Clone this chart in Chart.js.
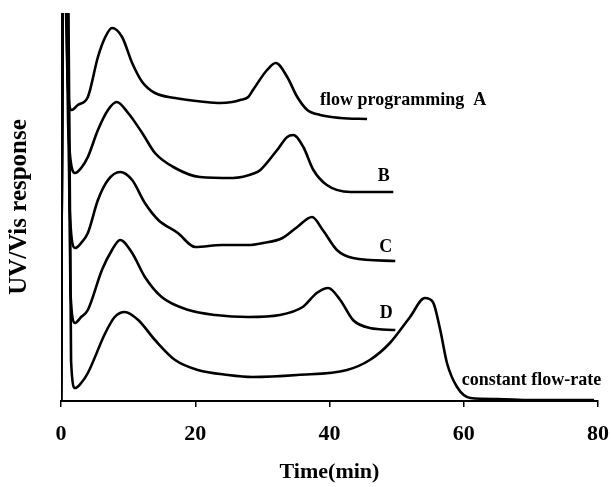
<!DOCTYPE html>
<html>
<head>
<meta charset="utf-8">
<script src="https://cdn.jsdelivr.net/npm/chart.js@4/dist/chart.umd.min.js"></script>
<style>
  html, body { margin: 0; padding: 0; background: #ffffff; }
  #wrap { width: 611px; height: 487px; }
</style>
</head>
<body>
<div id="wrap"><canvas id="c" width="611" height="487"></canvas></div>
<script>
// ---- data (time in min, detector response in arbitrary offset units) ----
const xTicks = [0, 20, 40, 60, 80];
const seriesNames = ["flow programming A", "B", "C", "D", "constant flow-rate"];

const traceA = [[0,0],[0.3,420],[0.7,400],[1.0,318],[1.6,291],[2.5,296],[4.0,304],[5.5,344],[6.6,364],[7.6,373],[9.1,364],[10.6,338],[12.1,319],[14,308],[17,303],[21.5,299],[23.7,298],[25.5,299],[26.7,301],[27.9,304],[28.6,311],[30.7,331],[32,338],[33.7,324],[35.2,304],[36.7,291],[38.6,286],[41.6,283],[45.6,282]];
const traceB = [[0,0],[0.3,420],[0.8,400],[1.1,268],[2.1,228],[3,233],[4,244],[5.5,271],[7,291],[8.3,299],[10,288],[12.1,268],[14,248],[17,233],[20.7,224],[25.6,223],[28.9,228],[29.7,231],[32.2,251],[33.7,264],[34.6,266],[36.1,254],[37.6,231],[39.6,216],[43.1,209],[49.5,209]];
const traceC = [[0,0],[0.3,420],[0.9,400],[1.3,190],[2.1,153],[3,158],[4,168],[5.5,201],[7,221],[8.8,229],[10.6,221],[12.5,198],[14.5,181],[17.4,168],[20,154],[24,156],[27.9,156],[30.1,158],[33,163],[35.2,174],[37.4,184],[39,171],[41.1,151],[43.5,143],[49.8,140]];
const traceD = [[0,0],[0.3,420],[1.0,400],[1.4,110],[2.1,78],[3,84],[4,91],[6.1,131],[7.6,151],[8.8,161],[10.6,148],[12.5,124],[15,104],[19,91],[23,86],[27.9,84],[32.6,86],[36,94],[38.1,108],[39.8,113],[41.6,101],[43.5,81],[46,73],[49.8,71]];
const traceConst = [[0,0],[0.3,420],[1.1,400],[1.5,40],[2.1,13],[3,18],[4,28],[6.6,68],[8,84],[9.5,89],[11.5,81],[14,61],[17,41],[20.4,31],[24.9,26],[28.5,24],[35.2,26],[42.6,31],[46,41],[49,58],[52,84],[54.2,103],[55.4,99],[56.5,71],[57.5,38],[59,14],[61,3],[65,2],[70,1],[75,1],[79.4,1]];

// curve labels anchored in data coordinates
const curveLabels = [
  { text: "flow programming  A", t: 38.6, v: 301 },
  { text: "B", t: 47.2, v: 225 },
  { text: "C", t: 47.4, v: 154 },
  { text: "D", t: 47.5, v: 88 },
  { text: "constant flow-rate", t: 59.7, v: 21 }
];

const serif = "'Liberation Serif', 'Times New Roman', serif";
const traces = [traceA, traceB, traceC, traceD, traceConst];

const labelPlugin = {
  id: 'curveLabels',
  afterDatasetsDraw(chart) {
    const ctx = chart.ctx, xs = chart.scales.x, ys = chart.scales.y;
    ctx.save();
    ctx.fillStyle = '#000';
    ctx.font = "bold 18px " + serif;
    ctx.textAlign = 'left';
    ctx.textBaseline = 'middle';
    curveLabels.forEach(l => {
      ctx.fillText(l.text, xs.getPixelForValue(l.t), ys.getPixelForValue(l.v));
    });
    ctx.restore();
  }
};

new Chart(document.getElementById('c'), {
  type: 'line',
  data: {
    datasets: traces.map((tr, i) => ({
      label: seriesNames[i],
      data: tr.map(p => ({ x: p[0], y: p[1] })),
      borderColor: '#000',
      borderWidth: 2.6,
      pointRadius: 0,
      cubicInterpolationMode: 'monotone',
      fill: false
    }))
  },
  options: {
    responsive: false,
    animation: false,
    layout: { padding: { top: 13, right: 13, left: 0, bottom: 0 } },
    plugins: { legend: { display: false }, tooltip: { enabled: false } },
    scales: {
      x: {
        type: 'linear', min: 0, max: 80,
        afterFit(s) { s.height = 86; s.paddingLeft = 0; s.paddingRight = 0; },
        afterBuildTicks(s) { s.ticks = xTicks.map(v => ({ value: v })); },
        grid: { drawOnChartArea: false, drawTicks: true, tickLength: 6, color: '#000', lineWidth: 1.5 },
        border: { display: true, color: '#000', width: 2 },
        ticks: { color: '#000', padding: 14, maxRotation: 0, font: { family: serif, size: 22, weight: 'bold' } },
        title: { display: true, text: 'Time(min)', color: '#000', padding: { top: 0, bottom: 1 }, font: { family: serif, size: 22, weight: 'bold' } }
      },
      y: {
        type: 'linear', min: 0, max: 388,
        afterFit(s) { s.width = 61; },
        grid: { display: false },
        border: { display: false },
        ticks: { display: false },
        title: { display: true, text: 'UV/Vis response', color: '#000', padding: { top: 5, bottom: 0 }, font: { family: serif, size: 25, weight: 'bold' } }
      }
    }
  },
  plugins: [labelPlugin]
});
</script>
</body>
</html>
